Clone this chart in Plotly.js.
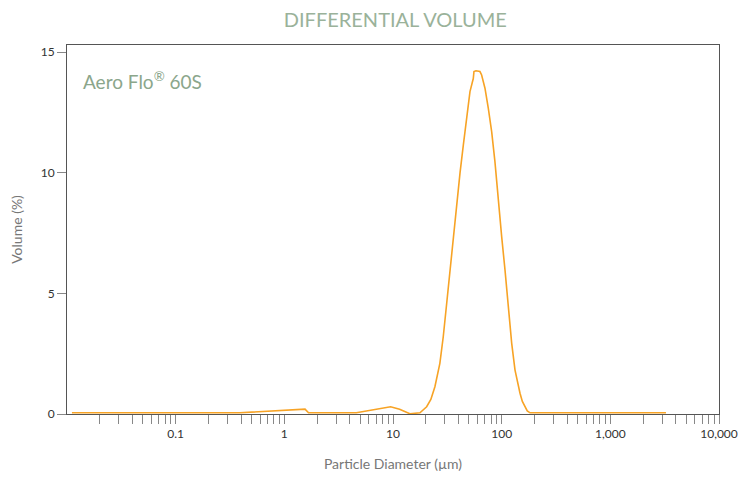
<!DOCTYPE html>
<html>
<head>
<meta charset="utf-8">
<script src="https://cdn.plot.ly/plotly-3.0.1.min.js"></script>
<style>html,body{margin:0;padding:0;background:#fff;}#chart{width:739px;height:477px;}</style>
</head>
<body>
<div id="chart"></div>
<script>
// Particle diameter (µm) and differential volume (%)
var diameter = [0.0111, 0.39, 1.55, 1.67, 4.6, 7.0, 9.5, 11.5, 14.3, 17.7, 20.4, 22.3, 24.3, 27.0, 29.0, 31.2, 33.5, 35.9, 38.6, 41.4, 44.4, 47.7, 51.1, 54.8, 55.6, 58.0, 63.1, 65.4, 70.2, 75.3, 80.9, 86.7, 93.1, 100, 107.3, 115.1, 123.7, 132.7, 140, 147.5, 155, 164, 172, 182.4, 3250];
var volume   = [0.05,   0.05, 0.2,  0.05, 0.05, 0.18, 0.3, 0.2,  0.01, 0.05, 0.3,  0.6,  1.13, 2.1,  3.2,  4.59, 5.97, 7.35, 8.73, 10.0, 11.15, 12.39, 13.36, 13.9, 14.19, 14.22, 14.19, 14.05, 13.5, 12.67, 11.7, 10.46, 8.73, 7.35, 5.97, 4.31, 2.93, 1.82, 1.25, 0.86, 0.52, 0.3, 0.13, 0.05, 0.05];

var majorTicks = [0.1, 1, 10, 100, 1000, 10000];
var majorText  = ["0.1", "1", "10", "100", "1,000", "10,000"];
var minorTicks = [0.02,0.03,0.04,0.05,0.06,0.07,0.08,0.09,0.2,0.3,0.4,0.5,0.6,0.7,0.8,0.9,2,3,4,5,6,7,8,9,20,30,40,50,60,70,80,90,200,300,400,500,600,700,800,900,2000,3000,4000,5000,6000,7000,8000,9000];
var yTicks = [0, 5, 10, 15];

var trace = {
  x: diameter, y: volume, type: 'scatter', mode: 'lines',
  line: {color: '#f7a325', width: 1.6, shape: 'linear'},
  hoverinfo: 'skip'
};

var layout = {
  width: 739, height: 477,
  margin: {l: 67, r: 20, t: 45, b: 63},
  paper_bgcolor: '#fff', plot_bgcolor: '#fff',
  showlegend: false,
  font: {family: 'Lato, sans-serif', color: '#333'},
  title: {text: 'DIFFERENTIAL VOLUME', x: 0.535, xanchor: 'center', y: 0.958, yanchor: 'middle',
          font: {family: 'Lato, sans-serif', size: 20, color: '#9ab29a'}},
  xaxis: {
    type: 'log', range: [-2, 4],
    tickmode: 'array', tickvals: majorTicks, ticktext: majorText,
    ticks: 'outside', ticklen: 9, tickcolor: '#888', tickwidth: 1,
    minor: {tickmode: 'array', tickvals: minorTicks, ticks: 'outside', ticklen: 9, tickcolor: '#888', tickwidth: 1, showgrid: false},
    showline: true, linecolor: '#555', linewidth: 1, mirror: true,
    showgrid: false, zeroline: false,
    tickfont: {size: 12, color: '#333'},
    title: {text: 'Particle Diameter (µm)', font: {size: 14, color: '#777'}, standoff: 18}
  },
  yaxis: {
    range: [0, 15.29],
    tickmode: 'array', tickvals: yTicks,
    ticks: 'outside', ticklen: 9, tickcolor: '#888', tickwidth: 1,
    showline: true, linecolor: '#555', linewidth: 1, mirror: true,
    showgrid: false, zeroline: false,
    tickfont: {size: 12, color: '#333'},
    title: {text: 'Volume (%)', font: {size: 14, color: '#777'}, standoff: 14}
  },
  annotations: [{
    text: 'Aero Flo<sup>®</sup> 60S', xref: 'paper', yref: 'paper',
    x: 0.022, y: 0.905, xanchor: 'left', yanchor: 'middle', showarrow: false,
    font: {family: 'Lato, sans-serif', size: 19, color: '#8ba68b'}
  }]
};

Plotly.newPlot('chart', [trace], layout, {displayModeBar: false, staticPlot: true});
</script>
</body>
</html>
